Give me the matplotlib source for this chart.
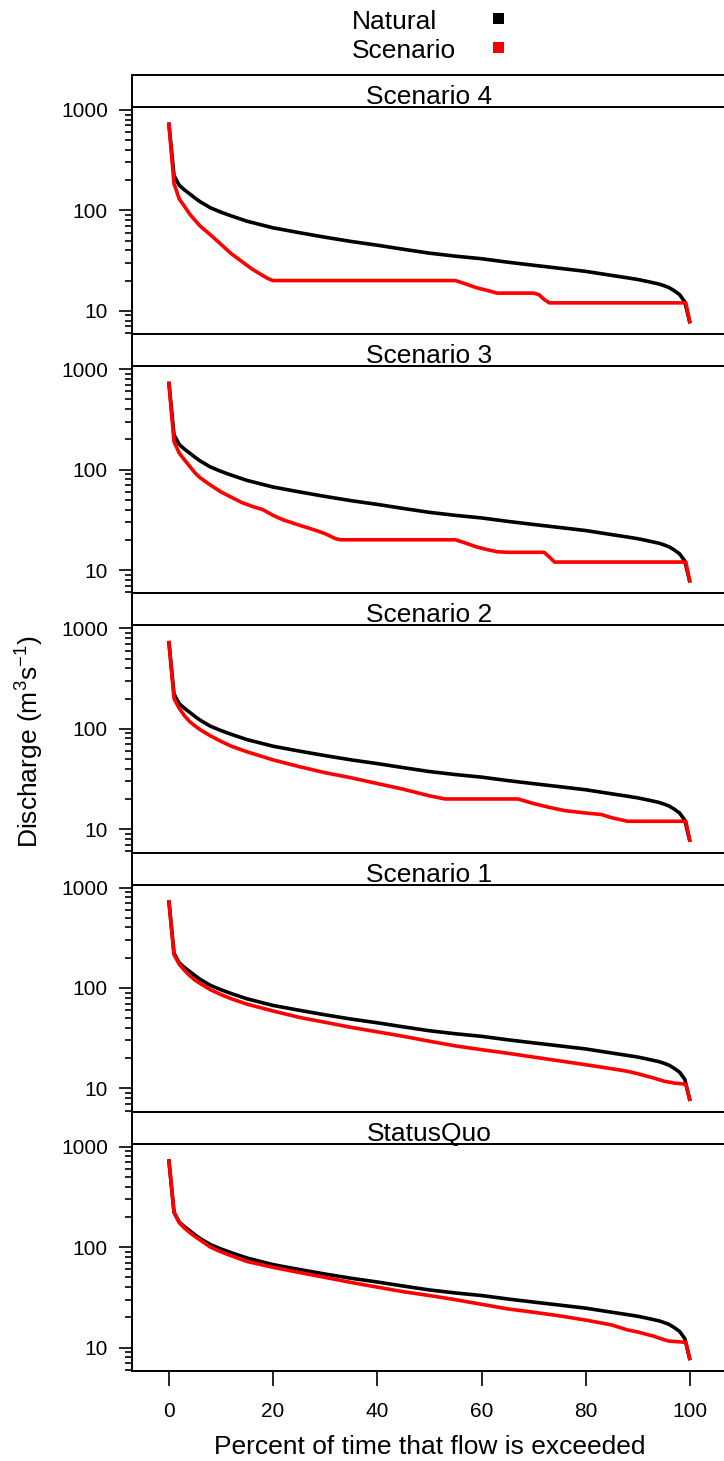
import matplotlib
matplotlib.use('Agg')
import matplotlib.pyplot as plt
from matplotlib.patches import Rectangle
from matplotlib.ticker import LogLocator, NullFormatter

plt.rcParams['font.family'] = ['Liberation Sans', 'DejaVu Sans']
plt.rcParams['mathtext.fontset'] = 'custom'
plt.rcParams['mathtext.rm'] = 'Liberation Sans'
plt.rcParams['mathtext.it'] = 'Liberation Sans:italic'

# Кривая обеспеченности расходов (естественный режим) - одинакова во всех панелях
natural_x = [0, 1, 2, 3, 4, 5, 6, 8, 10, 12, 15, 20, 25, 30, 35, 40, 45, 50, 55, 60,
             65, 70, 75, 80, 85, 88, 90, 92, 94, 95, 96, 97, 98, 99, 100]
natural_q = [750, 222, 178, 160, 146, 133, 122, 106, 96, 88, 78, 67, 60, 54, 49, 45, 41,
             37.5, 35, 33, 30.5, 28.4, 26.5, 24.7, 22.5, 21.3, 20.5, 19.5, 18.5, 17.8,
             17, 15.8, 14.5, 12.3, 7.5]

# Сценарии
sc4_x = [0, 1, 2, 3, 4, 5, 6, 8, 10, 12, 14, 16, 18, 19, 20, 55, 57, 59, 61, 63, 70,
         71, 72, 73, 99.2, 100]
sc4_q = [750, 185, 130, 110, 92, 80, 70, 57, 46, 37, 31, 26, 22.5, 21, 20, 20, 18.5,
         17, 16, 15, 15, 14.5, 13, 12, 12, 7.5]

sc3_x = [0, 1, 2, 3, 4, 5, 6, 8, 10, 12, 14, 16, 18, 20, 22, 25, 28, 30, 32, 33, 55,
         57, 59, 61, 63, 65, 72, 73, 74, 99.2, 100]
sc3_q = [750, 190, 146, 125, 108, 93, 83, 70, 60, 53, 47, 43, 40, 35, 31.5, 28, 25,
         23, 20.5, 20, 20, 18.5, 17, 16, 15.2, 15, 15, 13.5, 12, 12, 7.5]

sc2_x = [0, 1, 2, 3, 4, 5, 6, 8, 10, 12, 15, 20, 25, 30, 35, 40, 45, 50, 53, 67, 70,
         73, 76, 80, 83, 85, 88, 99.2, 100]
sc2_q = [750, 200, 160, 135, 118, 107, 98, 85, 75, 67, 59, 49, 42, 36.5, 32.5, 28.5,
         25, 21.5, 20, 20, 18, 16.5, 15.3, 14.5, 14, 13, 12, 12, 7.5]

sc1_x = [0, 1, 2, 3, 4, 5, 6, 8, 10, 12, 15, 20, 25, 30, 35, 40, 45, 50, 55, 60, 65,
         70, 75, 80, 85, 88, 90, 93, 95, 97, 99.2, 100]
sc1_q = [750, 215, 172, 150, 133, 120, 111, 96, 86, 78, 69, 59, 51, 45.5, 40.5, 36.6,
         33, 29.5, 26.5, 24.3, 22.4, 20.5, 18.8, 17.2, 15.7, 14.8, 14, 12.7, 11.8, 11.3,
         11, 7.5]

sq_x = [0, 1, 2, 3, 4, 5, 6, 8, 10, 12, 15, 20, 25, 30, 35, 40, 45, 50, 55, 60, 65,
        70, 75, 80, 85, 88, 90, 93, 95, 96, 99.2, 100]
sq_q = [750, 225, 175, 155, 140, 128, 118, 100, 90, 82, 72, 63, 56, 50, 44.5, 40, 36,
        33, 30, 27, 24.3, 22.5, 20.7, 18.8, 16.8, 15, 14.3, 13, 12, 11.6, 11.3, 7.5]

panel_titles = ['Scenario 4', 'Scenario 3', 'Scenario 2', 'Scenario 1', 'StatusQuo']
panel_x = [sc4_x, sc3_x, sc2_x, sc1_x, sq_x]
panel_q = [sc4_q, sc3_q, sc2_q, sc1_q, sq_q]

legend_labels = ['Natural', 'Scenario']
legend_colors = ['black', 'red']

# Геометрия фигуры в пикселях
W, H = 724, 1461
fig = plt.figure(figsize=(W / 100, H / 100), dpi=100)

left_px, right_px = 132.3, 726.5
top_px, pitch, strip_h = 75, 259.2, 32
plot_h = pitch - strip_h
lw_frame = 1.4

l = left_px / W
w = (right_px - left_px) / W

for k, title in enumerate(panel_titles):
    s_top = top_px + k * pitch
    p_top = s_top + strip_h
    p_bot = s_top + pitch

    ax = fig.add_axes([l, 1 - p_bot / H, w, plot_h / H])
    ax.plot(natural_x, natural_q, color='black', lw=2.6, solid_capstyle='butt')
    ax.plot(panel_x[k], panel_q[k], color='red', lw=2.6, solid_capstyle='butt')

    ax.set_yscale('log')
    ax.set_xlim(-7, 107)
    ax.set_ylim(5.85, 1069)
    ax.set_yticks([10, 100, 1000])
    ax.set_yticklabels(['10', '100', '1000'])
    ax.yaxis.set_minor_locator(LogLocator(base=10, subs=range(2, 10)))
    ax.yaxis.set_minor_formatter(NullFormatter())
    ax.tick_params(axis='y', which='major', direction='out', length=9.5, width=1.2,
                   pad=8, labelsize=15)
    ax.tick_params(axis='y', which='minor', direction='out', length=5, width=1.2)
    ax.set_xticks([0, 20, 40, 60, 80, 100])
    if k == len(panel_titles) - 1:
        ax.tick_params(axis='x', direction='out', length=10.6, width=1.2, pad=11.5,
                       labelsize=15)
    else:
        ax.tick_params(axis='x', bottom=False, labelbottom=False)
    for sp in ax.spines.values():
        sp.set_linewidth(lw_frame)

    # Полоса с заголовком панели
    st = fig.add_axes([l, 1 - p_top / H, w, strip_h / H])
    st.set_xticks([])
    st.set_yticks([])
    for sp in st.spines.values():
        sp.set_linewidth(lw_frame)
    fig.text((left_px + right_px) / 2 / W, 1 - (s_top + 29) / H, title,
             ha='center', va='baseline', fontsize=19)

# Подписи осей
fig.text((left_px + right_px) / 2 / W, 1 - 1454 / H,
         'Percent of time that flow is exceeded', ha='center', va='baseline',
         fontsize=19)
fig.text(30 / W, 1 - 742 / H, 'Discharge (m$^3$s$^{-1}$)', rotation=90,
         ha='center', va='center', fontsize=19)

# Легенда
for i, (lab, col) in enumerate(zip(legend_labels, legend_colors)):
    base = 29.3 + i * 29
    fig.text(352 / W, 1 - base / H, lab, ha='left', va='baseline', fontsize=19)
    fig.add_artist(Rectangle((493 / W, 1 - (base - 5) / H), 11 / W, 11 / H,
                             transform=fig.transFigure, color=col, lw=0))

fig.savefig('out.png', dpi=100)
